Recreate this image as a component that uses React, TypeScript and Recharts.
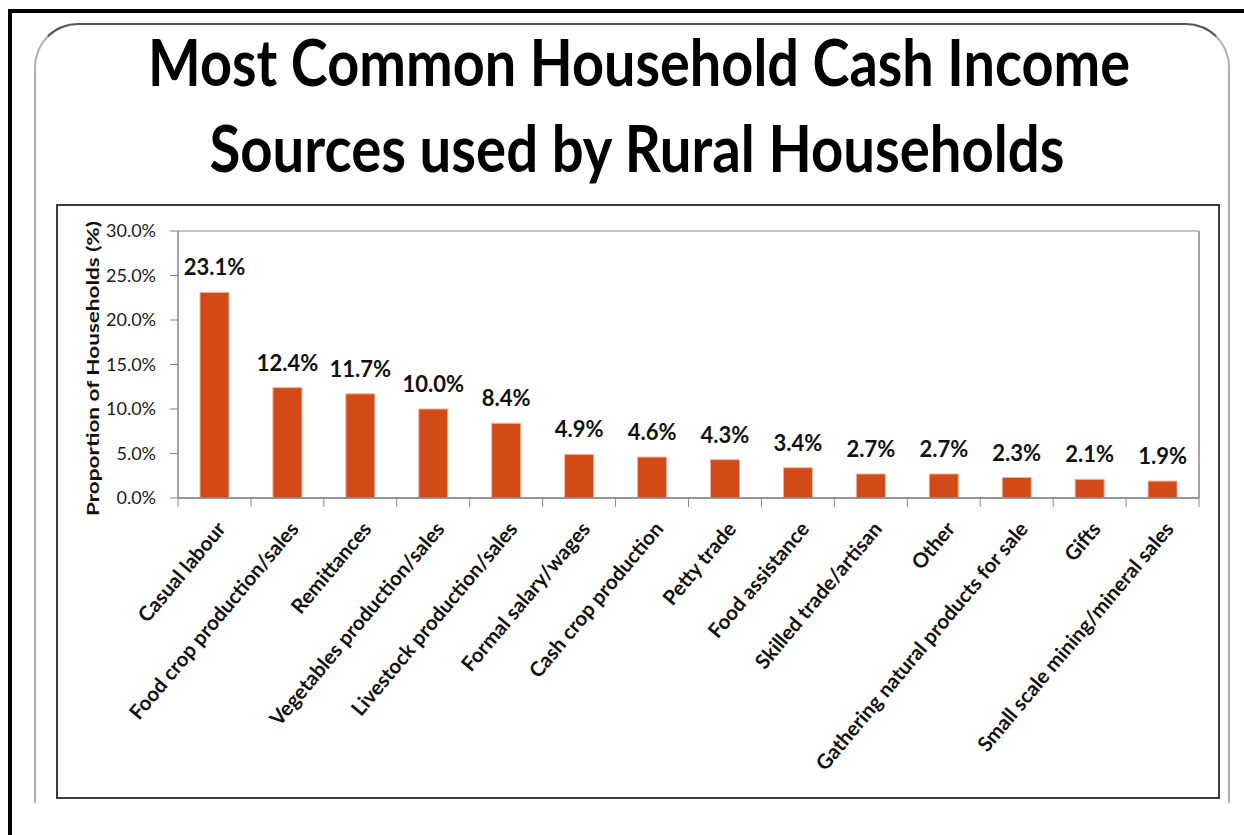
import React from 'react';
import { BarChart, Bar, XAxis, YAxis, CartesianGrid, LabelList } from 'recharts';

const categories = [
  'Casual labour',
  'Food crop production/sales',
  'Remittances',
  'Vegetables production/sales',
  'Livestock production/sales',
  'Formal salary/wages',
  'Cash crop production',
  'Petty trade',
  'Food assistance',
  'Skilled trade/artisan',
  'Other',
  'Gathering natural products for sale',
  'Gifts',
  'Small scale mining/mineral sales',
];
const shares = [23.1, 12.4, 11.7, 10.0, 8.4, 4.9, 4.6, 4.3, 3.4, 2.7, 2.7, 2.3, 2.1, 1.9];
const yTicks = [0, 5, 10, 15, 20, 25, 30];

const titleLines = ['Most Common Household Cash Income', 'Sources used by Rural Households'];
const yTitle = 'Proportion of Households (%)';

const FONT = 'Lato, "Open Sans", sans-serif';
const BAR = '#d24a18';
const GRID = '#878787';

const data = categories.map((name, i) => ({ name, share: shares[i] }));

const CategoryTick = (props: any) => {
  const { x, y, payload } = props;
  const half = payload.offset || 36.5;
  const last = payload.value === categories[categories.length - 1];
  const ax = x + 1;
  const ay = y + 22;
  return (
    <g>
      <line x1={x - half} x2={x - half} y1={y} y2={y + 9} stroke={GRID} />
      {last && <line x1={x + half} x2={x + half} y1={y} y2={y + 9} stroke={GRID} />}
      <text
        x={ax}
        y={ay}
        dy="0.72em"
        textAnchor="end"
        transform={`rotate(-50 ${ax} ${ay})`}
        fontFamily={FONT}
        fontWeight={700}
        fontSize={20.5}
        fill="#111"
      >
        {payload.value}
      </text>
    </g>
  );
};

const ValueLabel = (props: any) => {
  const { x, y, width, value } = props;
  return (
    <text
      x={x + width / 2}
      y={y - 17}
      textAnchor="middle"
      fontFamily={FONT}
      fontWeight={700}
      fontSize={22}
      fill="#111"
    >
      {`${Number(value).toFixed(1)}%`}
    </text>
  );
};

const AxisTitle = (props: any) => {
  const vb = props.viewBox;
  const tx = vb.x - 19;
  const ty = vb.y + vb.height / 2 + 4;
  return (
    <text
      x={tx}
      y={ty}
      textAnchor="middle"
      transform={`rotate(-90 ${tx} ${ty})`}
      textLength={295}
      lengthAdjust="spacingAndGlyphs"
      fontFamily={FONT}
      fontWeight={700}
      fontSize={17.5}
      fill="#111"
    >
      {yTitle}
    </text>
  );
};

export default function App() {
  return (
    <div style={{ position: 'absolute', left: 0, top: 0, width: 1244, height: 835, background: '#fff', overflow: 'hidden' }}>
      {/* outer frame, only top and left edges visible */}
      <div style={{ position: 'absolute', left: 8, top: 9, width: 1240, height: 4, background: '#000' }} />
      <div style={{ position: 'absolute', left: 8, top: 9, width: 4, height: 830, background: '#000' }} />

      {/* rounded slide panel, open at the bottom */}
      <div
        style={{
          position: 'absolute',
          left: 34,
          top: 23,
          width: 1192,
          height: 778,
          borderTop: '2px solid #555',
          borderLeft: '2px solid #b0b0b0',
          borderRight: '2px solid #b0b0b0',
          borderTopLeftRadius: 44,
          borderTopRightRadius: 44,
        }}
      />

      {/* chart frame */}
      <div
        style={{
          position: 'absolute',
          left: 56,
          top: 204,
          width: 1160,
          height: 591,
          border: '2px solid #3c3c3c',
        }}
      />

      <svg width={1244} height={200} style={{ position: 'absolute', left: 0, top: 0 }}>
        <text
          transform="translate(639 86) scale(1 1.15)"
          x={0}
          y={0}
          textAnchor="middle"
          textLength={982}
          lengthAdjust="spacingAndGlyphs"
          fontFamily={FONT}
          fontWeight={700}
          fontSize={56}
          fill="#000"
        >
          {titleLines[0]}
        </text>
        <text
          transform="translate(637 172) scale(1 1.15)"
          x={0}
          y={0}
          textAnchor="middle"
          textLength={855}
          lengthAdjust="spacingAndGlyphs"
          fontFamily={FONT}
          fontWeight={700}
          fontSize={56}
          fill="#000"
        >
          {titleLines[1]}
        </text>
      </svg>

      <div style={{ position: 'absolute', left: 0, top: 0 }}>
        <BarChart
          width={1244}
          height={835}
          data={data}
          margin={{ top: 231, right: 44, bottom: 327, left: 118 }}
        >
          <CartesianGrid horizontal vertical={false} stroke={GRID} strokeWidth={1.2} />
          <XAxis
            dataKey="name"
            interval={0}
            height={10}
            tickSize={0}
            tickMargin={0}
            tickLine={false}
            axisLine={{ stroke: GRID, strokeWidth: 1.5 }}
            tick={<CategoryTick />}
          />
          <YAxis
            yAxisId="left"
            width={60}
            domain={[0, 30]}
            ticks={yTicks}
            interval={0}
            tickSize={8}
            tickMargin={14}
            tickLine={{ stroke: GRID }}
            axisLine={{ stroke: GRID, strokeWidth: 1.5 }}
            tickFormatter={(v: number) => `${v.toFixed(1)}%`}
            tick={{ fontFamily: FONT, fontSize: 18, fill: '#1a1a1a' }}
            label={<AxisTitle />}
          />
          <YAxis
            yAxisId="right"
            orientation="right"
            width={1}
            domain={[0, 30]}
            ticks={yTicks}
            tick={false}
            tickLine={false}
            axisLine={{ stroke: GRID, strokeWidth: 1.5 }}
          />
          <Bar
            yAxisId="left"
            dataKey="share"
            fill={BAR}
            stroke="#eeb39a"
            strokeWidth={1}
            barSize={29}
            isAnimationActive={false}
          >
            <LabelList dataKey="share" content={<ValueLabel />} />
          </Bar>
        </BarChart>
      </div>
    </div>
  );
}
